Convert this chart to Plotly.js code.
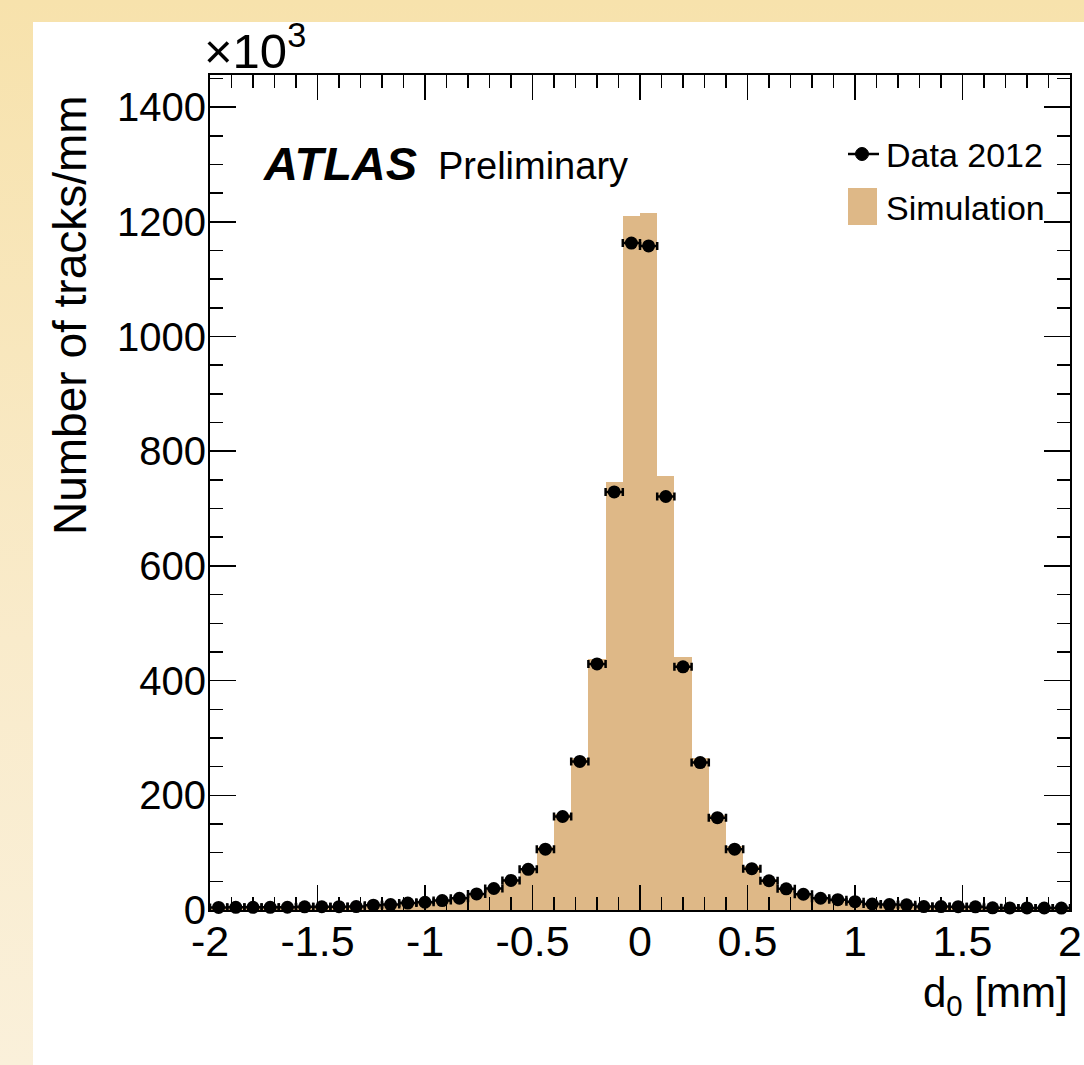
<!DOCTYPE html>
<html>
<head>
<meta charset="utf-8">
<script src="https://cdn.plot.ly/plotly-3.0.1.min.js"></script>
<style>
  html, body { margin: 0; padding: 0; }
  #bg { position: absolute; left: 0; top: 0; width: 1084px; height: 1065px;
        background: linear-gradient(to bottom, #F7E2AC 0%, #F9EBCB 60%, #FAF0DA 100%); }
  #white { position: absolute; left: 33px; top: 22px; width: 1051px; height: 1043px; background: #ffffff; }
  #plot { position: absolute; left: 0; top: 0; width: 1084px; height: 1065px; }
</style>
</head>
<body>
<div id="bg"></div>
<div id="white"></div>
<div id="plot"></div>
<script>
// Bin centres of d0 [mm] (bin width 0.08 mm)
const binCenters = [-1.96,-1.88,-1.80,-1.72,-1.64,-1.56,-1.48,-1.40,-1.32,-1.24,-1.16,-1.08,-1.00,-0.92,-0.84,-0.76,-0.68,-0.60,-0.52,-0.44,-0.36,-0.28,-0.20,-0.12,-0.04,
                    0.04,0.12,0.20,0.28,0.36,0.44,0.52,0.60,0.68,0.76,0.84,0.92,1.00,1.08,1.16,1.24,1.32,1.40,1.48,1.56,1.64,1.72,1.80,1.88,1.96];
// Data 2012 (x10^3 tracks/mm)
const data2012 = [4.5,4.6,4.6,4.7,4.8,5.5,5.7,5.8,6.0,8.5,9.5,12,13.5,16.5,20.5,28,37.5,51.5,71,106,163,259,429,729,1163,
                  1158,721,424,257,161,106,72,51,37,27.5,20.5,18,14.5,10.5,9.5,9,6,6,5.8,5.6,3.8,3.7,3.6,3.5,3.4];
// Simulation (x10^3 tracks/mm)
const simulation = [4.6,4.7,4.8,4.9,5.0,5.6,5.9,6.1,6.5,8.6,9.8,12.2,13.8,16.8,21,28.5,39,54,74,109,168,265,437,747,1211,
                    1215,757,442,265,166,111,76,54,39,28.5,21,17.5,14.5,11,9.8,9.2,6.4,6.2,6.0,5.8,4.0,3.9,3.8,3.7,3.6];
const binHalfWidth = 0.04;
// Tick labels
const xTickVals = [-2,-1.5,-1,-0.5,0,0.5,1,1.5,2];
const xTickText = ['-2','-1.5','-1','-0.5','0','0.5','1','1.5','2'];
const yTickVals = [0,200,400,600,800,1000,1200,1400];
const yTickText = ['0','200','400','600','800','1000','1200','1400'];

const FONT = 'Liberation Sans, Arial, Helvetica, sans-serif';
const TAN = '#DEB887';

const traces = [
  {
    type: 'bar',
    x: binCenters,
    y: simulation,
    width: binCenters.map(() => 2 * binHalfWidth),
    marker: { color: TAN, line: { width: 0 } },
    name: 'Simulation',
    showlegend: false,
    hoverinfo: 'skip'
  },
  {
    type: 'scatter',
    mode: 'markers',
    x: binCenters,
    y: data2012,
    marker: { color: '#000000', size: 13, symbol: 'circle' },
    error_x: { type: 'constant', value: binHalfWidth, color: '#000000', thickness: 2.5, width: 4 },
    name: 'Data 2012',
    showlegend: false,
    cliponaxis: false
  }
];

// helpers to convert pixel positions to paper coords (plot area 210..1070 x, 75..910 y)
const px = v => (v - 210) / 860;
const py = v => (910 - v) / 835;

const layout = {
  width: 1084,
  height: 1065,
  margin: { l: 210, r: 14, t: 75, b: 155, pad: 0 },
  paper_bgcolor: 'rgba(0,0,0,0)',
  plot_bgcolor: '#ffffff',
  showlegend: false,
  bargap: 0,
  font: { family: FONT, color: '#000000', size: 41 },
  xaxis: {
    range: [-2, 2],
    tickmode: 'array',
    tickvals: xTickVals,
    ticktext: xTickText,
    ticks: 'inside',
    ticklen: 25,
    tickwidth: 1.5,
    tickcolor: '#000000',
    minor: { tickmode: 'linear', tick0: -2, dtick: 0.1, ticks: 'inside', ticklen: 13, tickwidth: 1.5, tickcolor: '#000000', showgrid: false },
    showline: true,
    linecolor: '#000000',
    linewidth: 2,
    mirror: 'allticks',
    showgrid: false,
    zeroline: false,
    tickfont: { family: FONT, size: 43, color: '#000000' },
    ticklabelstandoff: -8
  },
  yaxis: {
    range: [0, 1456],
    tickmode: 'array',
    tickvals: yTickVals,
    ticktext: yTickText,
    ticks: 'inside',
    ticklen: 26,
    tickwidth: 1.5,
    tickcolor: '#000000',
    minor: { tickmode: 'linear', tick0: 0, dtick: 50, ticks: 'inside', ticklen: 13, tickwidth: 1.5, tickcolor: '#000000', showgrid: false },
    showline: true,
    linecolor: '#000000',
    linewidth: 2,
    mirror: 'allticks',
    showgrid: false,
    zeroline: false,
    tickfont: { family: FONT, size: 40, color: '#000000' },
    ticklabelstandoff: -6
  },
  shapes: [
    // legend: data marker with line
    { type: 'line', xref: 'paper', yref: 'paper', x0: px(848), x1: px(879), y0: py(154), y1: py(154),
      line: { color: '#000000', width: 2.5 } },
    { type: 'circle', xref: 'paper', yref: 'paper', x0: px(855.5), x1: px(868.5), y0: py(160.5), y1: py(147.5),
      fillcolor: '#000000', line: { color: '#000000', width: 1 } },
    // legend: simulation box
    { type: 'rect', xref: 'paper', yref: 'paper', x0: px(848), x1: px(877), y0: py(225), y1: py(188),
      fillcolor: TAN, line: { width: 0 } }
  ],
  annotations: [
    { xref: 'paper', yref: 'paper', x: px(261), y: py(163), xanchor: 'left', yanchor: 'middle', showarrow: false,
      text: '<b><i>ATLAS</i></b>', font: { family: FONT, size: 47, color: '#000000' } },
    { xref: 'paper', yref: 'paper', x: px(436), y: py(166), xanchor: 'left', yanchor: 'middle', showarrow: false,
      text: 'Preliminary', font: { family: FONT, size: 38, color: '#000000' } },
    { xref: 'paper', yref: 'paper', x: px(884), y: py(155), xanchor: 'left', yanchor: 'middle', showarrow: false,
      text: 'Data 2012', font: { family: FONT, size: 34, color: '#000000' } },
    { xref: 'paper', yref: 'paper', x: px(884), y: py(208), xanchor: 'left', yanchor: 'middle', showarrow: false,
      text: 'Simulation', font: { family: FONT, size: 34, color: '#000000' } },
    { xref: 'paper', yref: 'paper', x: px(202), y: py(80), xanchor: 'left', yanchor: 'bottom', showarrow: false,
      text: '×10<sup>3</sup>', font: { family: FONT, size: 49, color: '#000000' } },
    { xref: 'paper', yref: 'paper', x: px(70), y: py(93), xanchor: 'center', yanchor: 'top', showarrow: false,
      textangle: -90, text: 'Number of tracks/mm', font: { family: FONT, size: 46, color: '#000000' } },
    { xref: 'paper', yref: 'paper', x: px(1070), y: py(1024), xanchor: 'right', yanchor: 'bottom', showarrow: false,
      text: 'd<sub>0</sub> [mm]', font: { family: FONT, size: 42, color: '#000000' } }
  ]
};

Plotly.newPlot('plot', traces, layout, { staticPlot: true, displayModeBar: false });
</script>
</body>
</html>
